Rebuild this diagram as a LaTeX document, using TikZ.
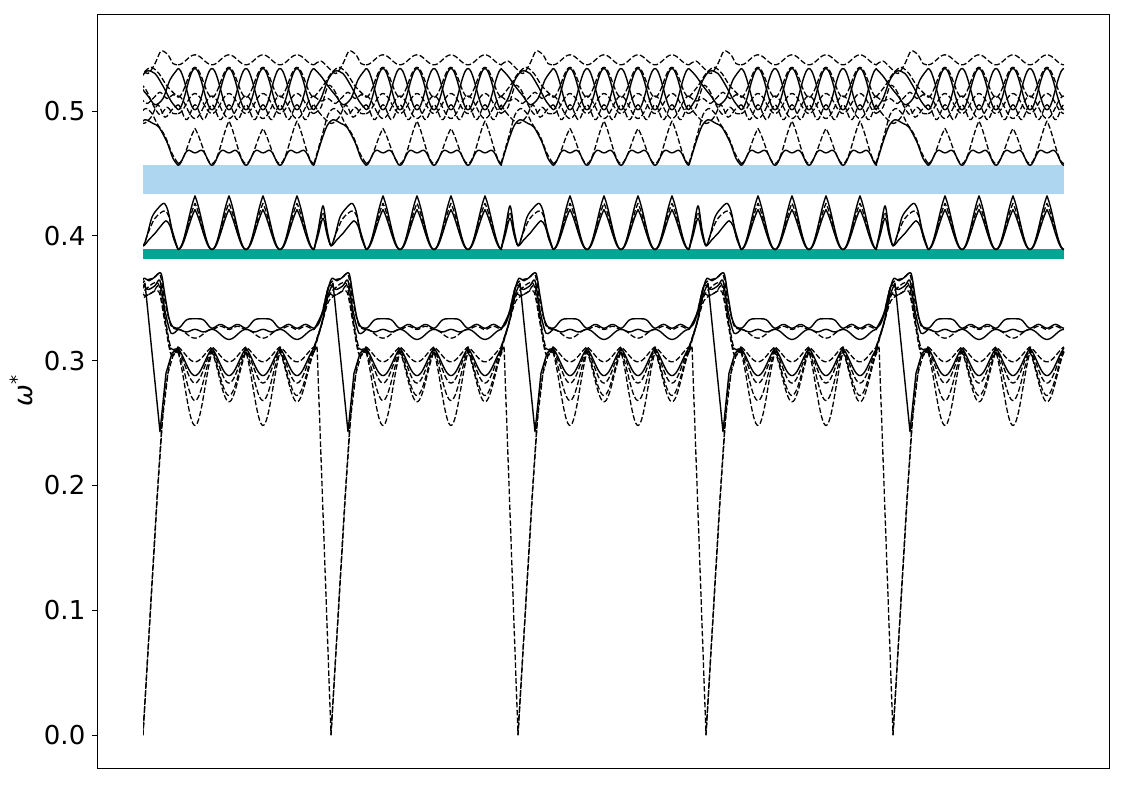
\documentclass[tikz,border=0pt]{standalone}
\usepackage{fontspec}
\setmainfont{DejaVu Sans}
\definecolor{bandblue}{RGB}{174,214,241}
\definecolor{bandgreen}{RGB}{0,166,148}
\tikzset{
  sol/.style={black, line width=1.4pt, line join=round},
  dsh/.style={black, line width=1.3pt, dash pattern=on 5.5pt off 2.4pt, line join=round},
  frameline/.style={black, line width=0.9pt},
  ytickmark/.style={black, line width=0.9pt},
  ticklab/.style={anchor=east, inner sep=0pt, font=\fontsize{26}{30}\selectfont},
  ylab/.style={rotate=90, inner sep=0pt, font=\fontsize{26}{30}\selectfont},
}
\pgfmathdeclarefunction{ssq}{1}{\pgfmathparse{sin(180*#1)*sin(180*#1)}}
\pgfmathdeclarefunction{dsq}{1}{\pgfmathparse{sin(360*#1)*sin(360*#1)}}
\pgfmathdeclarefunction{gpk}{1}{\pgfmathparse{0.5*sin(180*#1)*sin(180*#1)+0.5*(1-abs(cos(180*#1)))}}
\pgfmathdeclarefunction{hvl}{1}{\pgfmathparse{0.5*sin(180*#1)*sin(180*#1)+0.5*abs(sin(180*#1))}}
\pgfmathdeclarefunction{flt}{1}{\pgfmathparse{1-(cos(180*#1)*cos(180*#1))^3}}
\pgfmathdeclarefunction{prty}{1}{\pgfmathparse{mod(floor(#1),2)}}
\newcommand\bdry{%
  % lower group
  \draw[sol] plot[smooth,tension=0.5] coordinates {(-17,0.326) (-12,0.33) (-6,0.345) (-2,0.36) (1,0.366) (6,0.364) (12,0.367) (18,0.37) (22,0.352) (26,0.334) (30,0.327) (35,0.326)};
  \draw[dsh] plot[smooth,tension=0.5] coordinates {(-17,0.325) (-10,0.335) (-3,0.358) (2,0.364) (10,0.366) (17,0.369) (22,0.347) (28,0.328) (35,0.325)};
  \draw[sol] plot[smooth,tension=0.5] coordinates {(-17,0.325) (-9,0.338) (-2,0.36) (5,0.357) (12,0.36) (17,0.364) (22,0.34) (28,0.322) (35,0.325)};
  \draw[dsh] plot[smooth,tension=0.5] coordinates {(-17,0.311) (-10,0.328) (-3,0.352) (3,0.352) (10,0.355) (17,0.36) (22,0.335) (28,0.31) (35,0.311)};
  \draw[dsh] plot[smooth,tension=0.5] coordinates {(-17,0.309) (-8,0.333) (-2,0.348) (8,0.354) (16,0.355) (22,0.33) (28,0.305) (35,0.309)};
  \draw[dsh] plot[smooth,tension=0.5] coordinates {(-17,0.308) (-9,0.33) (-3,0.35) (4,0.358) (15,0.362) (21,0.338) (27,0.31) (35,0.308)};
  \draw[sol] plot[smooth,tension=0.5] coordinates {(-17,0.31) (-9,0.33) (-3,0.352) (2,0.362)} -- (17,0.243) -- (23,0.29) -- (29,0.306) -- (35,0.31);
  \draw[dsh] (-17,0.307) -- (-14,0.312) -- (0,0) -- (14,0.19) -- (19,0.25) -- (25,0.29) -- (30,0.304) -- (35,0.307);
  \draw[dsh] (0,0) -- (15,0.2) -- (21,0.27) -- (27,0.30) -- (35,0.311);
  % middle group
  \draw[sol] plot[smooth,tension=0.5] coordinates {(-17,0.389) (-13,0.404) (-8,0.424) (-4,0.405) (0,0.392) (4,0.40) (9,0.415) (15,0.422) (21,0.426) (25,0.42) (29,0.405) (35,0.389)};
  \draw[sol] plot[smooth,tension=0.5] coordinates {(-17,0.389) (-13,0.400) (-8,0.414) (-4,0.401) (0,0.392) (6,0.397) (12,0.402) (18,0.408) (23,0.412) (27,0.408) (31,0.397) (35,0.389)};
  \draw[dsh] plot[smooth,tension=0.5] coordinates {(-17,0.389) (-13,0.402) (-8,0.419) (-4,0.403) (0,0.392) (5,0.402) (11,0.413) (17,0.418) (22,0.42) (26,0.415) (30,0.40) (35,0.389)};
  % upper group
  \draw[sol] plot[smooth,tension=0.5] coordinates {(-17,0.4565) (-10,0.475) (-4,0.488) (2,0.493) (10,0.49) (16,0.487) (24,0.475) (30,0.462) (35,0.4565)};
  \draw[dsh] plot[smooth,tension=0.5] coordinates {(-17,0.458) (-9,0.48) (-3,0.497) (3,0.502) (9,0.498) (14,0.49) (22,0.48) (29,0.466) (35,0.458)};
  \draw[dsh] plot[smooth,tension=0.5] coordinates {(-17,0.512) (-10,0.508) (-3,0.51) (4,0.506) (10,0.51) (17,0.515) (24,0.51) (30,0.513) (35,0.512)};
  \draw[dsh] plot[smooth,tension=0.5] coordinates {(-17,0.498) (-10,0.503) (-3,0.52) (3,0.517) (10,0.505) (17,0.497) (24,0.503) (30,0.498) (35,0.498)};
  \draw[dsh] plot[smooth,tension=0.5] coordinates {(-17,0.505) (-10,0.497) (0,0.49) (8,0.495) (15,0.505) (22,0.495) (30,0.502) (35,0.505)};
  \draw[sol] plot[smooth,tension=0.5] coordinates {(-17,0.534) (-10,0.528) (-3,0.52) (5,0.512) (12,0.505) (20,0.51) (27,0.525) (35,0.534)};
  \draw[sol] plot[smooth,tension=0.5] coordinates {(-17,0.501) (-10,0.51) (-3,0.525) (4,0.532) (12,0.53) (20,0.52) (28,0.508) (35,0.501)};
  \draw[dsh] plot[smooth,tension=0.5] coordinates {(-17,0.511) (-8,0.52) (0,0.53) (8,0.535) (16,0.53) (24,0.52) (35,0.511)};
  \draw[dsh] plot[smooth,tension=0.5] coordinates {(-17,0.537) (-10,0.54) (-3,0.535) (5,0.53) (12,0.538) (18,0.548) (25,0.545) (30,0.538) (35,0.537)};
}
\begin{document}
\begin{tikzpicture}[x=1pt, y=1248pt]
\useasboundingbox (0,-0.040064) rectangle (1125,0.588942);
% gap bands
\fill[bandblue] (143,0.4335) rectangle (1064,0.4567);
\fill[bandgreen] (143,0.3814) rectangle (1064,0.3894);
% regular parts of each segment
\foreach \X in {143,331,518,706,893}{
  % lower group
  \draw[sol] plot[domain=0:4, samples=121, variable=\t] ({\X+35+34*\t}, {0.326+(1-prty(\t))*0.0075*flt(\t)+prty(\t)*0.003*dsq(\t)});
  \draw[sol] plot[domain=0:4, samples=121, variable=\t] ({\X+35+34*\t}, {0.325-prty(\t)*0.008*ssq(\t)-(1-prty(\t))*0.002*dsq(\t)});
  \draw[dsh] plot[domain=0:4, samples=121, variable=\t] ({\X+35+34*\t}, {0.325-(1-prty(\t))*0.007*ssq(\t)+prty(\t)*0.0025*dsq(\t)});
  \draw[sol] plot[domain=0:4, samples=121, variable=\t] ({\X+35+34*\t}, {0.31-0.022*hvl(\t)});
  \draw[dsh] plot[domain=0:4, samples=121, variable=\t] ({\X+35+34*\t}, {0.311-0.012*hvl(\t)});
  \draw[dsh] plot[domain=0:4, samples=121, variable=\t] ({\X+35+34*\t}, {0.309-0.027*hvl(\t)});
  \draw[dsh] plot[domain=0:4, samples=121, variable=\t] ({\X+35+34*\t}, {0.308-(0.040-0.004*prty(\t))*hvl(\t)});
  \draw[dsh] plot[domain=0:4, samples=121, variable=\t] ({\X+35+34*\t}, {0.307-(0.059-0.019*prty(\t))*hvl(\t)});
  % middle group
  \draw[sol] plot[domain=0:4, samples=121, variable=\t] ({\X+35+34*\t}, {0.389+0.043*gpk(\t)});
  \draw[sol] plot[domain=0:4, samples=121, variable=\t] ({\X+35+34*\t}, {0.389+0.032*gpk(\t)});
  \draw[dsh] plot[domain=0:4, samples=121, variable=\t] ({\X+35+34*\t}, {0.389+0.037*gpk(\t)});
  % upper group
  \draw[sol] plot[domain=0:4, samples=121, variable=\t] ({\X+35+34*\t}, {0.4565+0.010*ssq(\t)+0.006*dsq(\t)});
  \draw[dsh] plot[domain=0:4, samples=121, variable=\t] ({\X+35+34*\t}, {0.458+(0.034-0.006*(1-prty(\t)))*gpk(\t)});
  \draw[dsh] plot[domain=0:4, samples=121, variable=\t] ({\X+35+34*\t}, {0.503+0.009*cos(360*\t)});
  \draw[dsh] plot[domain=0:4, samples=121, variable=\t] ({\X+35+34*\t}, {0.506-0.008*cos(360*\t)});
  \draw[dsh] plot[domain=0:4, samples=121, variable=\t] ({\X+35+34*\t}, {0.499+0.006*cos(720*\t)});
  \draw[sol] plot[domain=0:4, samples=121, variable=\t] ({\X+35+34*\t}, {0.5175+0.0165*cos(360*\t)});
  \draw[sol] plot[domain=0:4, samples=121, variable=\t] ({\X+35+34*\t}, {0.5175-0.0165*cos(360*\t)});
  \draw[dsh] plot[domain=0:4, samples=121, variable=\t] ({\X+35+34*\t}, {0.523-0.012*cos(360*\t)});
  \draw[dsh] plot[domain=0:4, samples=121, variable=\t] ({\X+35+34*\t}, {0.541-0.004*cos(360*\t)});
}
% boundary regions
\begin{scope}
  \clip (143,-0.1) rectangle (1200,0.7);
  \begin{scope}[shift={(143,0)}] \bdry \end{scope}
\end{scope}
\foreach \X in {331,518,706,893}{
  \begin{scope}[shift={(\X,0)}] \bdry \end{scope}
}
% axes frame and ticks
\draw[frameline] (97,-0.02644) rectangle (1109,0.57772);
\foreach \v/\l [count=\i] in {0/0.0, 0.1/0.1, 0.2/0.2, 0.3/0.3, 0.4/0.4, 0.5/0.5}{
  \draw[ytickmark] (92,\v) -- (97,\v);
  \node[ticklab] (tl\i) at (85.5,\v) {\l};
}
\node[ylab] (ylabel) at (21,0.2756) {\itshape ω\textsuperscript{*}};
\end{tikzpicture}
\end{document}
